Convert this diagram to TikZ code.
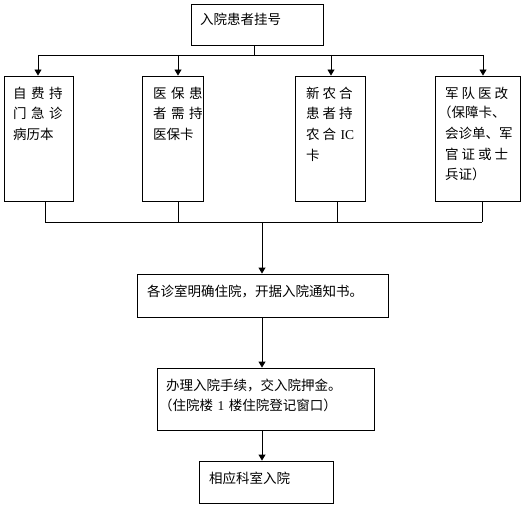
\documentclass[tikz,border=0pt]{standalone}
\usepackage{fontspec}
\setmainfont{Liberation Serif}
\newfontfamily\cjk{Noto Sans CJK SC}
\usetikzlibrary{arrows.meta}
\newcommand{\lat}[1]{{\rmfamily #1}}
\newcommand{\gp}{\hspace{4.5pt}}
\newcommand{\gq}{\hspace{3pt}}
\begin{document}
\begin{tikzpicture}[x=1pt,y=-1pt,
  box/.style={draw=black,line width=0.9pt,inner sep=0pt,minimum width=#1},
  txt/.style={anchor=base west,inner sep=0pt,font=\cjk\fontsize{13.5}{20.7}\selectfont,align=left,text width=100pt},
  ln/.style={draw=black,line width=0.9pt},
  arr/.style={ln,-{Triangle[width=7pt,length=6pt]}}]
\useasboundingbox (0,0) rectangle (526,508);
% boxes
\node[box=132pt,minimum height=41pt] (top) at (257,24.5) {};
\node[box=69pt,minimum height=125pt] (b1) at (38.5,138.5) {};
\node[box=61pt,minimum height=125pt] (b2) at (172.5,138.5) {};
\node[box=70pt,minimum height=125pt] (b3) at (330,138.5) {};
\node[box=85pt,minimum height=125pt] (b4) at (477.5,138.5) {};
\node[box=251pt,minimum height=43pt] (b5) at (262.5,295.5) {};
\node[box=217pt,minimum height=62pt] (b6) at (265.5,399) {};
\node[box=134pt,minimum height=42pt] (b7) at (266,482) {};
% texts
\node[txt] (ttop) at (200,25) {入院患者挂号};
\node[txt] (t1) at (13,98) {自\gp 费\gp 持\\门\gp 急\gp 诊\\病历本};
\node[txt] (t2) at (153,98) {医\gp 保\gp 患\\者\gp 需\gp 持\\医保卡};
\node[txt] (t3) at (306,98) {新\gq 农\gq 合\\患\gq 者\gq 持\\农\gq 合 \lat{IC}\\卡};
\node[txt] (t4) at (445,98) {军\gq 队\gq 医\gq 改\\[-1pt]\hspace*{-7pt}（保障卡、\\会诊单、军\\官\gq 证\gq 或\gq 士\\兵证）};
\node[txt,text width=250pt] (t5) at (147,296) {各诊室明确住院，开据入院通知书。};
\node[txt,text width=220pt] (t6) at (166,390) {办理入院手续，交入院押金。\\\hspace*{-7pt}（住院楼 \lat{1} 楼住院登记窗口）};
\node[txt] (t7) at (209,483) {相应科室入院};
% connectors top
\coordinate (bus1) at (254,55);
\coordinate (a1) at (38,55);
\coordinate (a2) at (178,55);
\coordinate (a3) at (331,55);
\coordinate (a4) at (483,55);
\draw[ln] (top.south -| bus1) -- (bus1);
\draw[ln] (a1) -- (a4);
\draw[arr] (a1) -- (a1 |- b1.north);
\draw[arr] (a2) -- (a2 |- b2.north);
\draw[arr] (a3) -- (a3 |- b3.north);
\draw[arr] (a4) -- (a4 |- b4.north);
% connectors bottom
\coordinate (c1) at (45,222);
\coordinate (c2) at (178,222);
\coordinate (c3) at (337,222);
\coordinate (c4) at (482,222);
\coordinate (cm) at (262,222);
\draw[ln] (c1 |- b1.south) -- (c1);
\draw[ln] (c2 |- b2.south) -- (c2);
\draw[ln] (c3 |- b3.south) -- (c3);
\draw[ln] (c4 |- b4.south) -- (c4);
\draw[ln] (c1) -- (c4);
\draw[arr] (cm) -- (cm |- b5.north);
\coordinate (d) at (262,317);
\draw[arr] (d |- b5.south) -- (d |- b6.north);
\draw[arr] (d |- b6.south) -- (d |- b7.north);
\end{tikzpicture}
\end{document}
